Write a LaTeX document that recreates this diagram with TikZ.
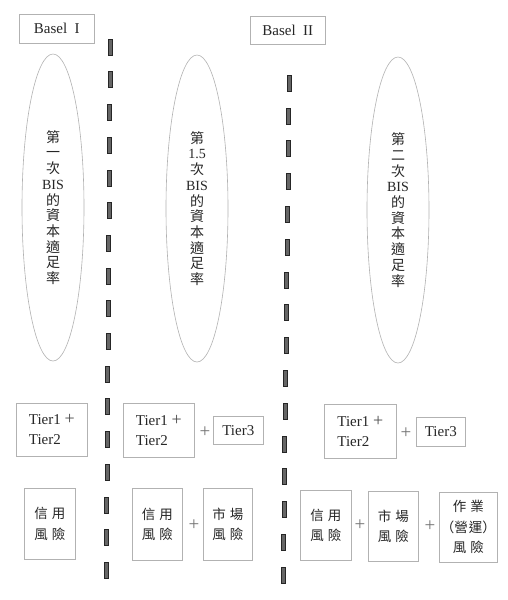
\documentclass[tikz,border=0pt]{standalone}
\usepackage{fontspec}
\setmainfont{Liberation Serif}
\newfontfamily\cjk{Noto Sans CJK TC}
\usetikzlibrary{shapes.geometric}
\newcommand{\zhc}[1]{{\cjk\fontsize{14}{15.7}\selectfont #1}}
\newcommand{\zhb}[1]{{\cjk\fontsize{13.5}{20.5}\selectfont #1}}
\newcommand{\bigplus}{{\fontsize{18}{20}\selectfont\color{black!70}+}}
\begin{document}
\begin{tikzpicture}[x=1pt,y=-1pt,
  txt/.style={text=black!85, inner sep=0pt},
  headbox/.style={txt, draw=black!30, line width=0.6pt, anchor=north west,
    minimum width=75pt, minimum height=29pt, font=\fontsize{15}{18}\selectfont},
  oval/.style={ellipse, draw=black!30, line width=0.6pt, txt, align=center,
    minimum width=62pt, minimum height=307pt, font=\fontsize{14}{15.7}\selectfont},
  tierbox/.style={txt, draw=black!30, line width=0.6pt, anchor=north west,
    align=left, font=\fontsize{15}{20}\selectfont},
  riskbox/.style={txt, draw=black!30, line width=0.6pt, anchor=north west,
    align=center, font=\fontsize{13.5}{20.5}\selectfont},
  plus/.style={text=black!55, inner sep=0pt, font=\fontsize{19}{20}\selectfont},
  dashbar/.style={fill=black!60, draw=black!85, line width=0.5pt}
]
\useasboundingbox (0,0) rectangle (507,600);
\fill[white] (0,0) rectangle (507,600);

% headers
\node[headbox] (b1) at (19,14) {Basel\ \ I};
\node[headbox, minimum height=28pt] (b2) at (250,16) {Basel\ \ II};

% dashed separators
\foreach \i in {0,...,16}{
  \pgfmathsetmacro\yy{39+\i*32.7}
  \pgfmathsetmacro\xx{110-4*(\yy-39)/543}
  \filldraw[dashbar] (\xx-2,\yy) rectangle (\xx+2,\yy+16);
}
\foreach \i in {0,...,15}{
  \pgfmathsetmacro\yy{75+\i*32.8}
  \pgfmathsetmacro\xx{289-6*(\yy-75)/508}
  \filldraw[dashbar] (\xx-2,\yy) rectangle (\xx+2,\yy+16);
}

% ellipses
\node[oval] (e1) at (53,207.5) {\zhc{第}\\\zhc{一}\\\zhc{次}\\BIS\\\zhc{的}\\\zhc{資}\\\zhc{本}\\\zhc{適}\\\zhc{足}\\\zhc{率}};
\node[oval] (e2) at (197,208.5) {\zhc{第}\\1.5\\\zhc{次}\\BIS\\\zhc{的}\\\zhc{資}\\\zhc{本}\\\zhc{適}\\\zhc{足}\\\zhc{率}};
\node[oval, minimum height=306pt] (e3) at (398,210) {\zhc{第}\\\zhc{二}\\\zhc{次}\\BIS\\\zhc{的}\\\zhc{資}\\\zhc{本}\\\zhc{適}\\\zhc{足}\\\zhc{率}};

% tier row
\node[tierbox, minimum width=71pt, minimum height=53pt] (t1) at (16,403) {Tier1 \bigplus\\Tier2};
\node[tierbox, minimum width=71pt, minimum height=54pt] (t2) at (123,403) {Tier1 \bigplus\\Tier2};
\node[plus] (p1) at (205,432) {+};
\node[tierbox, minimum width=50pt, minimum height=28pt] (t3) at (213,416) {Tier3};
\node[tierbox, minimum width=72pt, minimum height=54pt] (t4) at (324,404) {Tier1 \bigplus\\Tier2};
\node[plus] (p2) at (406,433) {+};
\node[tierbox, minimum width=49pt, minimum height=29pt] (t5) at (416,417) {Tier3};

% risk row
\node[riskbox, minimum width=51pt, minimum height=71pt] (r1) at (24,488) {\zhb{信\hspace{4pt}用}\\\zhb{風\hspace{4pt}險}};
\node[riskbox, minimum width=50pt, minimum height=72pt] (r2) at (132,488) {\zhb{信\hspace{4pt}用}\\\zhb{風\hspace{4pt}險}};
\node[plus] (p3) at (194,525) {+};
\node[riskbox, minimum width=49pt, minimum height=72pt] (r3) at (203,488) {\zhb{市\hspace{4pt}場}\\\zhb{風\hspace{4pt}險}};
\node[riskbox, minimum width=51pt, minimum height=70pt] (r4) at (300,490) {\zhb{信\hspace{4pt}用}\\\zhb{風\hspace{4pt}險}};
\node[plus] (p4) at (360,525) {+};
\node[riskbox, minimum width=50pt, minimum height=70pt] (r5) at (368,491) {\zhb{市\hspace{4pt}場}\\\zhb{風\hspace{4pt}險}};
\node[plus] (p5) at (430,526) {+};
\node[riskbox, minimum width=58pt, minimum height=70pt] (r6) at (439,492) {\zhb{作\hspace{4pt}業}\\\zhb{（營\hspace{1pt}運）}\\\zhb{風\hspace{4pt}險}};
\end{tikzpicture}
\end{document}
